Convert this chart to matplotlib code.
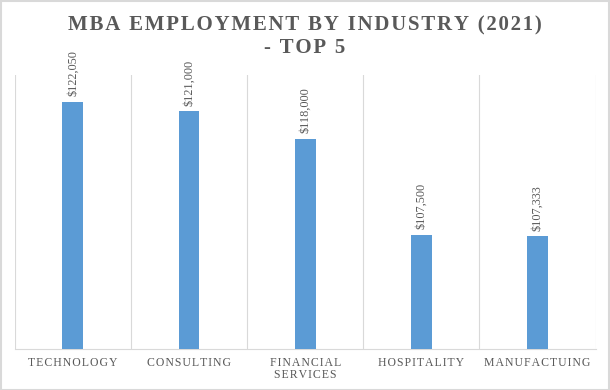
import matplotlib.pyplot as plt
from matplotlib.patches import Rectangle

# Data
industries = ['TECHNOLOGY', 'CONSULTING', 'FINANCIAL\nSERVICES', 'HOSPITALITY', 'MANUFACTUING']
salaries = [122050, 121000, 118000, 107500, 107333]
value_labels = ['$122,050', '$121,000', '$118,000', '$107,500', '$107,333']

title_lines = ['MBA EMPLOYMENT BY INDUSTRY (2021)', '- TOP 5']

bar_color = '#5B9BD5'
text_color = '#595959'
grid_color = '#D9D9D9'

plt.rcParams['font.family'] = ['Liberation Serif', 'DejaVu Serif']


def spaced(s, sep='\u200a'):
    # mimic the wide letter spacing of the original
    return '\n'.join(sep.join(line) for line in s.split('\n'))


fig = plt.figure(figsize=(6.1, 3.9), dpi=100)
ax = fig.add_axes([0.0243, 0.105, 0.952, 0.703])

x = list(range(len(industries)))
ax.bar(x, salaries, width=0.18, color=bar_color, zorder=3)

for xi, v, lab in zip(x, salaries, value_labels):
    ax.annotate(lab, (xi, v), xytext=(0, 4), textcoords='offset points',
                rotation=90, ha='center', va='bottom', fontsize=8.8, color=text_color)

ax.set_ylim(95000, 125000)
ax.set_xlim(-0.5, len(industries) - 0.5)

# vertical separators between categories
for b in [i - 0.5 for i in range(len(industries) + 1)]:
    ax.axvline(b, color=grid_color, lw=0.8, zorder=1)

ax.set_yticks([])
ax.set_xticks(x)
ax.set_xticklabels([spaced(s) for s in industries], fontsize=8.5, color=text_color,
                   linespacing=1.0)
ax.tick_params(axis='x', length=0, pad=6)
for side in ['top', 'left', 'right']:
    ax.spines[side].set_visible(False)
ax.spines['bottom'].set_color(grid_color)
ax.spines['bottom'].set_linewidth(0.8)

# title, one text per line
for line, ypos in zip(title_lines, [0.923, 0.863]):
    fig.text(0.5, ypos, spaced(line), ha='center', va='baseline', fontsize=15,
             fontweight='bold', color=text_color)

# light border around the figure
fig.patches.append(Rectangle((0.001, 0.001), 0.997, 0.996, transform=fig.transFigure,
                             fill=False, edgecolor=grid_color, lw=1.5))

fig.savefig('out.png', dpi=100)
